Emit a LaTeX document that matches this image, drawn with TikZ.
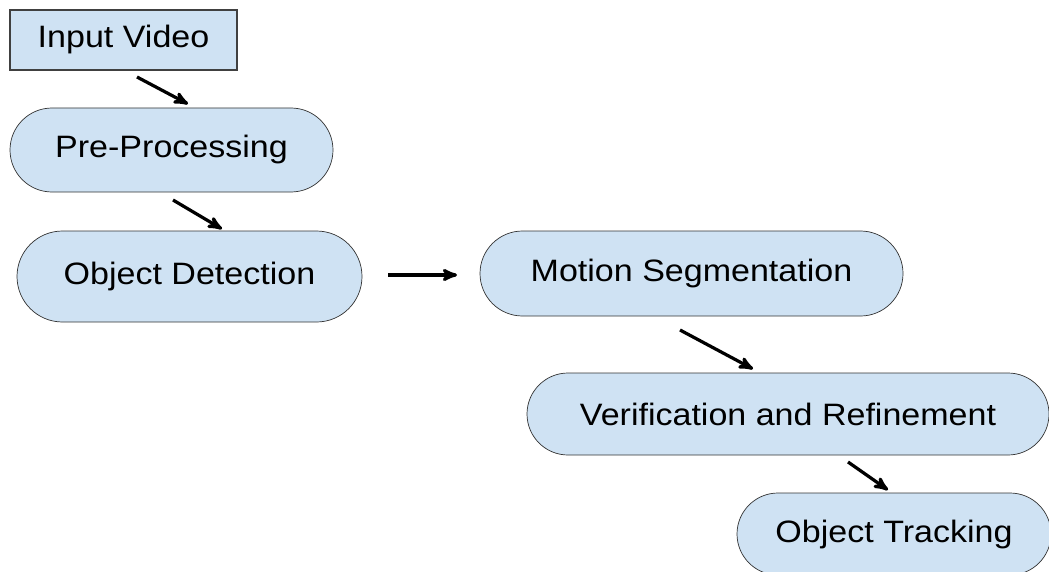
\documentclass[tikz,border=0pt]{standalone}
\usepackage{fontspec}
\setmainfont{Liberation Sans}[FakeStretch=1.1]
\usetikzlibrary{shapes.misc}
\usetikzlibrary{arrows}
\definecolor{boxblue}{RGB}{207,226,243}
\tikzset{
    every node/.style={
        font=\fontsize{22}{26}\selectfont,
        inner sep=0pt},
    inbox/.style={
        rectangle,
        draw=black!75,
        line width=1pt,
        fill=boxblue},
    pill/.style={
        rounded rectangle,
        draw=black!80,
        line width=0.5pt,
        fill=boxblue},
    flow/.style={
        draw,
        ->,>=stealth',
        line width=2.3pt}}

\begin{document}
\begin{tikzpicture}[x=0.025cm,y=-0.025cm]
        \useasboundingbox (0,0) rectangle (1049,571);
        \node[inbox,minimum width=227*0.025cm,minimum height=60*0.025cm] (iv) at (123.5,40) {Input Video};
        \node[pill,minimum width=323*0.025cm,minimum height=84*0.025cm] (pp) at (171.5,150) {Pre-Processing};
        \node[pill,minimum width=345*0.025cm,minimum height=91*0.025cm] (od) at (189.5,276.5) {Object Detection};
        \node[pill,minimum width=423*0.025cm,minimum height=85*0.025cm] (ms) at (691.5,273.5) {Motion Segmentation};
        \node[pill,minimum width=522*0.025cm,minimum height=82*0.025cm] (vr) at (788,414) {Verification and Refinement};
        \node[pill,minimum width=314*0.025cm,minimum height=82*0.025cm] (ot) at (894,534) {Object Tracking};

        % arrow ends
        \coordinate (iv-out) at (137,77);   \coordinate (pp-in) at (188,104);
        \coordinate (pp-out) at (173,200);  \coordinate (od-in) at (222,229);
        \coordinate (od-out) at (388,275);  \coordinate (ms-in) at (457,275);
        \coordinate (ms-out) at (680,330);  \coordinate (vr-in) at (753,369);
        \coordinate (vr-out) at (848,462);  \coordinate (ot-in) at (888,490);

        \draw[flow] (iv-out) -- (pp-in);
        \draw[flow] (pp-out) -- (od-in);
        \draw[flow] (od-out) -- (ms-in);
        \draw[flow] (ms-out) -- (vr-in);
        \draw[flow] (vr-out) -- (ot-in);
    \end{tikzpicture}
\end{document}
